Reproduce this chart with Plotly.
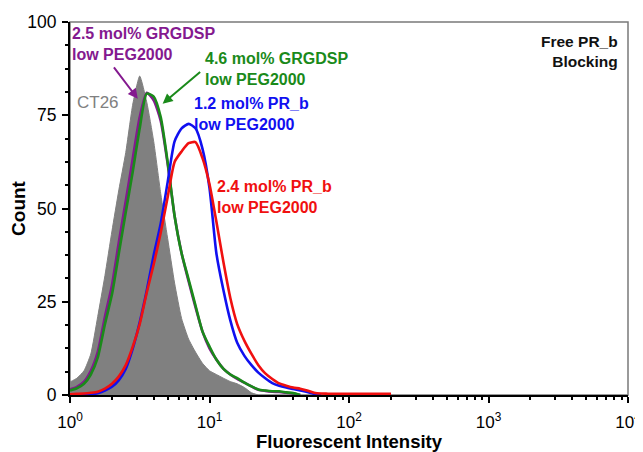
import plotly.graph_objects as go

# Fluorescent intensity grid (bin centres)
intensity = [1.00, 1.12, 1.26, 1.41, 1.58, 1.78, 2.00, 2.24, 2.51, 2.82,
             3.16, 3.55, 3.98, 4.47, 5.01, 5.62, 6.31, 7.08, 7.94, 8.91,
             10.0, 11.2, 12.6, 14.1, 15.8, 17.8, 20.0, 22.4, 25.1, 28.2,
             31.6, 35.5, 39.8, 44.7, 50.1, 56.2, 63.1, 70.8, 79.4, 89.1,
             100, 112, 126, 141, 158, 178, 200]

N = None
ct26 = [3.5, 4.5, 6.5, 11, 21, 32, 44, 55, 65, 78,
        85.5, 78.5, 68, 54, 42, 30, 20.5, 15, 11.5, 8.5,
        6.5, 5.5, 4.5, 3.6, 3, 2, 0.6, 0, N, N,
        N, N, N, N, N, N, N, N, N, N,
        N, N, N, N, N, N, N]
grgdsp_25 = [1.5, 2.2, 3.6, 6.5, 11.5, 21, 29.5, 41, 52, 63.5,
             74.5, 81, 79, 73.5, 62, 48, 38, 30.5, 23.5, 17,
             12.5, 9.5, 7, 5.5, 4.3, 3.3, 2.3, 1.4, 1.1, 0.9,
             0.8, 0.6, 0.4, 0, N, N, N, N, N, N,
             N, N, N, N, N, N, N]
grgdsp_46 = [1.2, 1.8, 3, 5.5, 10, 19, 27, 38, 49, 60,
             71.5, 80.8, 80, 74.5, 62.5, 48, 38, 31, 24, 17,
             13, 9.5, 7, 5.5, 4.5, 3.3, 2.3, 1.5, 1.2, 1.0,
             1.0, 0.7, 0.5, 0, N, N, N, N, N, N,
             N, N, N, N, N, N, N]
prb_12 = [0, 0, 0, 0.1, 0.5, 1.2, 2.2, 4, 7, 12.5,
          19.5, 28, 37.5, 46, 57, 68, 71.5, 72.7, 71.5, 66,
          55.5, 38, 28, 20, 14, 10.5, 8, 6, 4.5, 3.2,
          2.5, 2, 1.6, 1.2, 0.8, 0.3, 0, N, N, N,
          N, N, N, N, N, N, N]
prb_24 = [0.2, 0.3, 0.4, 0.6, 0.9, 1.7, 3, 5, 8, 13,
          19, 27.5, 35, 43.5, 53, 62.5, 65.3, 67.5, 67.8, 63.5,
          56.5, 46.5, 35.5, 26, 19, 14.5, 11, 8, 5.8, 4.3,
          3.1, 2.5, 2, 1.7, 1.2, 0.6, 0.4, 0.35, 0.3, 0.3,
          0.3, 0.3, 0.3, 0.3, 0.3, 0.3, 0.3]

tick_vals = [1, 10, 100, 1000, 10000]
tick_text = ["10<sup>0</sup>", "10<sup>1</sup>", "10<sup>2</sup>", "10<sup>3</sup>", "10<sup>4</sup>"]
y_ticks = [0, 25, 50, 75, 100]

PURPLE = "#84198f"
GREEN = "#1a8a1a"
BLUE = "#1010f0"
RED = "#f01010"
GRAY = "#808080"
FONT = "Arial, Liberation Sans, sans-serif"

fig = go.Figure()
fig.add_trace(go.Scatter(x=intensity, y=ct26, mode="lines", fill="tozeroy",
                         fillcolor=GRAY, line=dict(color=GRAY, width=1, shape="spline", smoothing=0.5),
                         showlegend=False))
for ys, col in [(grgdsp_25, PURPLE), (grgdsp_46, GREEN), (prb_12, BLUE), (prb_24, RED)]:
    fig.add_trace(go.Scatter(x=intensity, y=ys, mode="lines",
                             line=dict(color=col, width=2.6, shape="spline", smoothing=0.6),
                             showlegend=False))

minor_x = [m * 10 ** d for d in range(4) for m in range(2, 10)]

fig.update_xaxes(type="log", range=[0, 4], tickvals=tick_vals, ticktext=tick_text, automargin=False,
                 ticks="outside", ticklen=6, tickwidth=1.5, tickcolor="black", ticklabelstandoff=5,
                 showline=True, linecolor="black", linewidth=2, showgrid=False, zeroline=False,
                 tickfont=dict(family=FONT, size=17, color="black"),
                 minor=dict(tickvals=minor_x, ticks="outside", ticklen=3, tickcolor="black", showgrid=False),
                 title=dict(text="<b>Fluorescent Intensity</b>", standoff=2,
                            font=dict(family=FONT, size=18.5, color="black")))
fig.update_yaxes(range=[0, 100], tickvals=y_ticks, ticks="outside", ticklen=6, tickwidth=1.5, automargin=False,
                 tickcolor="black", showline=True, linecolor="black", linewidth=2, ticklabelstandoff=2,
                 showgrid=False, zeroline=False,
                 tickfont=dict(family=FONT, size=17.5, color="black"),
                 minor=dict(dtick=6.25, ticks="outside", ticklen=3, tickcolor="black", showgrid=False),
                 title=dict(text="<b>Count</b>", standoff=6,
                            font=dict(family=FONT, size=19, color="black")))

fig.add_shape(type="rect", xref="paper", yref="paper", x0=0, x1=1, y0=0, y1=1,
              line=dict(color="#7a7a7a", width=1.5), layer="below")

def label(text, x, y, color, xanchor="left", yanchor="top", align="left", bold=True, size=16):
    fig.add_annotation(x=x, y=y, xref="paper", yref="paper", text=("<b>%s</b>" % text) if bold else text,
                       showarrow=False, xanchor=xanchor, yanchor=yanchor, align=align,
                       borderpad=0, font=dict(family=FONT, size=size, color=color))

label("2.5 mol% GRGDSP<br>low PEG2000", 0.002, 0.995, PURPLE)
label("4.6 mol% GRGDSP<br>low PEG2000", 0.240, 0.927, GREEN)
label("1.2 mol% PR_b<br>low PEG2000", 0.220, 0.806, BLUE)
label("2.4 mol% PR_b<br>low PEG2000", 0.262, 0.584, RED)
label("CT26", 0.050, 0.785, GRAY, xanchor="center", yanchor="middle", bold=False, size=17)
label("Free PR_b<br>Blocking", 0.984, 0.972, "#111111", xanchor="right", align="right", size=15.5)

# arrows
fig.add_annotation(x=0.486, y=79.4, xref="x", yref="y", ax=-25, ay=-33, text="",
                   showarrow=True, arrowhead=2, arrowsize=1, arrowwidth=2, arrowcolor=PURPLE)
fig.add_annotation(x=0.664, y=78.1, xref="x", yref="y", ax=39, ay=-33, text="",
                   showarrow=True, arrowhead=2, arrowsize=1, arrowwidth=2, arrowcolor=GREEN)

# the page adds an 8px body margin, so the figure is sized to fit the 643x452 window
fig.update_layout(width=635, height=444, margin=dict(l=62, r=15, t=14, b=57),
                  plot_bgcolor="white", paper_bgcolor="white",
                  font=dict(family=FONT))
fig.write_html("out.html")
